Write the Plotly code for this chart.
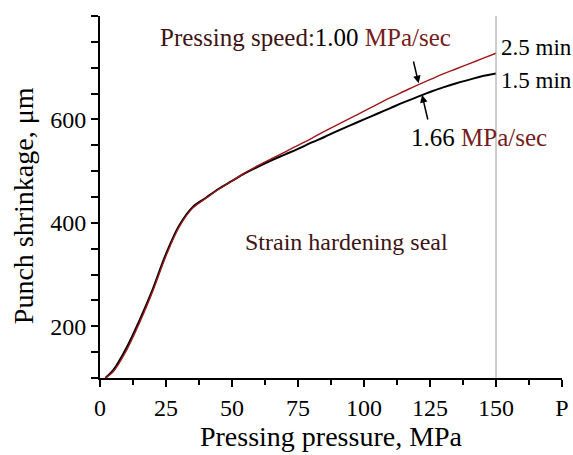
import plotly.graph_objects as go

# ---- data ----
pressure = [2, 5, 10, 15, 20, 25, 30, 35, 40, 45, 50, 55, 60, 65, 70, 75, 80, 85, 90, 95,
            100, 105, 110, 115, 120, 125, 130, 135, 140, 145, 150]
shrink_166 = [100, 115, 158, 212, 272, 340, 395, 430, 448, 466, 481, 496, 509, 521, 532, 543,
              555, 566, 578, 589, 600, 611, 622, 633, 643, 653, 662, 670, 677, 684, 689]
shrink_100 = [100, 112, 153, 207, 268, 336, 392, 428, 447, 465, 481, 497, 511, 524, 537, 550,
              563, 577, 590, 603, 616, 629, 642, 654, 666, 677, 688, 698, 708, 718, 728]

x_tickvals = [0, 25, 50, 75, 100, 125, 150, 175]
x_ticktext = ["0", "25", "50", "75", "100", "125", "150", "P"]
y_tickvals = [200, 400, 600]
y_ticktext = ["200", "400", "600"]
end_pressure = 150

FONT = "Liberation Serif, Times New Roman, serif"
DARK = "#3e1414"
DARKRED = "#742020"
REDLINE = "#a01818"

fig = go.Figure()
fig.add_trace(go.Scatter(x=pressure, y=shrink_166, mode="lines", line=dict(color="black", width=2, shape="spline"),
                         showlegend=False, hoverinfo="skip"))
fig.add_trace(go.Scatter(x=pressure, y=shrink_100, mode="lines", line=dict(color=REDLINE, width=1.4, shape="spline"),
                         showlegend=False, hoverinfo="skip"))

# vertical reference line at end of pressing
fig.add_shape(type="line", x0=end_pressure, x1=end_pressure, xref="x", y0=0, y1=1, yref="paper",
              line=dict(color="#9a9a9a", width=1))

fig.add_annotation(x=78, y=758, xref="x", yref="y", showarrow=False,
                   text=f"<span style='color:{DARK}'>Pressing speed:</span>1.00 <span style='color:{DARKRED}'>MPa/sec</span>",
                   font=dict(family=FONT, size=25, color="black"))
fig.add_annotation(x=143.5, y=566, xref="x", yref="y", showarrow=False,
                   text=f"1.66 <span style='color:{DARKRED}'>MPa/sec</span>", font=dict(family=FONT, size=25, color="black"))
fig.add_annotation(x=151, y=740, xref="x", yref="y", showarrow=False, xanchor="left",
                   text="2.5 min", font=dict(family=FONT, size=23, color="black"))
fig.add_annotation(x=151, y=676, xref="x", yref="y", showarrow=False, xanchor="left",
                   text="1.5 min", font=dict(family=FONT, size=23, color="black"))
fig.add_annotation(x=93.5, y=363, xref="x", yref="y", showarrow=False,
                   text="Strain hardening seal", font=dict(family=FONT, size=24, color=DARK))

# y-axis title placed as annotation for exact position
fig.add_annotation(x=-0.167, y=0.477, xref="paper", yref="paper", showarrow=False, textangle=-90,
                   xanchor="center", yanchor="middle",
                   text="Punch shrinkage, μm", font=dict(family=FONT, size=28, color="black"))

# arrows
fig.add_annotation(x=120.7, y=670, ax=118.6, ay=715, xref="x", yref="y", axref="x", ayref="y",
                   showarrow=True, arrowhead=2, arrowsize=1, arrowwidth=1.5, arrowcolor="black", text="")
fig.add_annotation(x=122, y=647, ax=124.3, ay=597, xref="x", yref="y", axref="x", ayref="y",
                   showarrow=True, arrowhead=2, arrowsize=1, arrowwidth=1.5, arrowcolor="black", text="")

fig.update_xaxes(range=[0, 175], tickvals=x_tickvals, ticktext=x_ticktext, automargin=False,
                 showline=True, linecolor="black", linewidth=2, ticks="outside", ticklen=7, tickwidth=2,
                 tickcolor="black", showgrid=False, zeroline=False,
                 minor=dict(tickvals=[12.5, 37.5, 62.5, 87.5, 112.5, 137.5, 162.5], ticks="outside", ticklen=5,
                            tickwidth=1.5, tickcolor="black", showgrid=False),
                 tickfont=dict(family=FONT, size=24, color="black"),
                 title=dict(text="Pressing pressure, MPa", font=dict(family=FONT, size=28, color="black"), standoff=0))
fig.update_yaxes(range=[100, 800], tickvals=y_tickvals, ticktext=y_ticktext, automargin=False,
                 showline=True, linecolor="black", linewidth=2, ticks="outside", ticklen=7, tickwidth=2,
                 tickcolor="black", showgrid=False, zeroline=False,
                 minor=dict(dtick=50, tick0=0, ticks="outside", ticklen=7, tickwidth=1.5, tickcolor="black",
                            showgrid=False),
                 tickfont=dict(family=FONT, size=24, color="black"))

fig.update_layout(width=573, height=455, margin=dict(l=100, r=11, t=16, b=77),
                  plot_bgcolor="white", paper_bgcolor="white", font=dict(family=FONT), hovermode=False)

fig.write_html("out.html", config={"displayModeBar": False},
               post_script="document.body.style.margin='0';document.body.style.padding='0';")
